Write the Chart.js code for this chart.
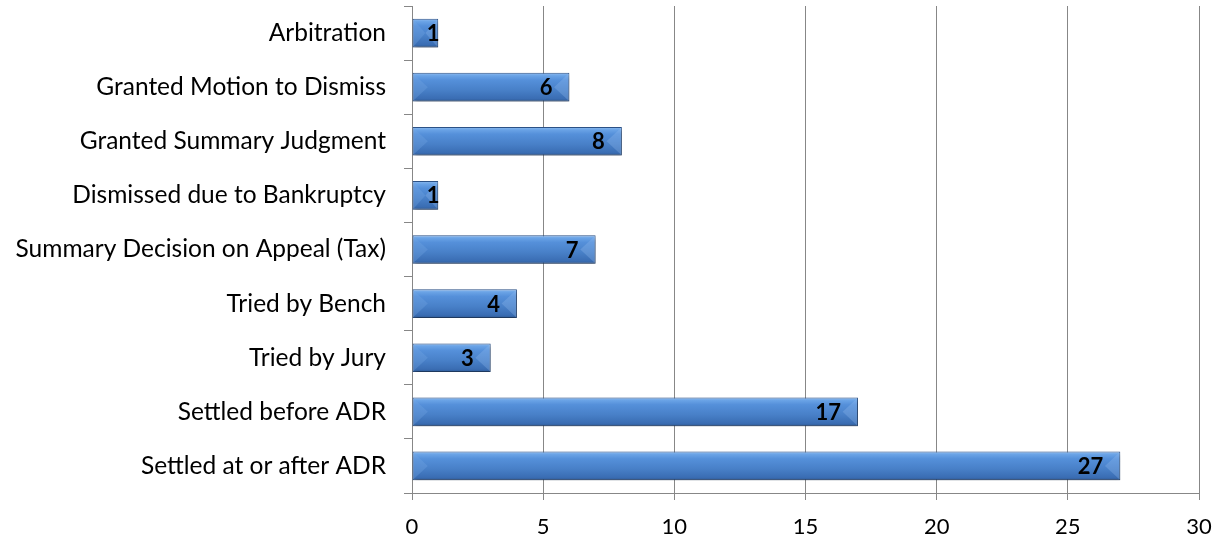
<!DOCTYPE html>
<html>
<head>
<meta charset="utf-8">
<script src="https://cdn.jsdelivr.net/npm/chart.js@4/dist/chart.umd.min.js"></script>
<style>
  html, body { margin: 0; padding: 0; background: #fff; }
  #wrap { width: 1220px; height: 541px; }
</style>
</head>
<body>
<div id="wrap"><canvas id="grafico"></canvas></div>
<script>
// datos
var categorias = [
    'Arbitration',
    'Granted Motion to Dismiss',
    'Granted Summary Judgment',
    'Dismissed due to Bankruptcy',
    'Summary Decision on Appeal (Tax)',
    'Tried by Bench',
    'Tried by Jury',
    'Settled before ADR',
    'Settled at or after ADR'
];
var casos = [1, 6, 8, 1, 7, 4, 3, 17, 27];
var ejeMin = 0;
var ejeMax = 30;
var ejePaso = 5;

var gris = '#878787';
var grosorBarra = 0.53;

// degradado vertical para cada barra (aspecto biselado tipo Excel)
var colorBarra = function (context) {
    var chart = context.chart;
    var escala = chart.scales.y;
    if (!escala || !chart.chartArea) {
        return '#4d84cb';
    }
    var y = escala.getPixelForValue(context.dataIndex);
    var h = (escala.height / categorias.length) * grosorBarra;
    var top = y - h / 2;
    var g = chart.ctx.createLinearGradient(0, top, 0, top + h);
    g.addColorStop(0, '#8fbcf0');
    g.addColorStop(0.1, '#6aa3e6');
    g.addColorStop(0.25, '#5590da');
    g.addColorStop(0.6, '#4880c8');
    g.addColorStop(0.9, '#3a6db3');
    g.addColorStop(1, '#2e5a96');
    return g;
};

var biselPlugin = {
    id: 'bisel',
    beforeDatasetsDraw: function (chart) {
        var ctx = chart.ctx;
        ctx.save();
        ctx.shadowColor = 'rgba(0,0,0,0.35)';
        ctx.shadowOffsetY = 3;
        ctx.shadowOffsetX = 1;
        ctx.shadowBlur = 4;
    },
    afterDatasetsDraw: function (chart) {
        var ctx = chart.ctx;
        ctx.restore();
        ctx.save();
        chart.getDatasetMeta(0).data.forEach(function (bar) {
            var h = bar.height;
            var top = bar.y - h / 2;
            var bot = bar.y + h / 2;
            var x0 = bar.base + 1;
            var x1 = bar.x - 1;
            var w = Math.min(h / 2, (x1 - x0) / 2);
            ctx.fillStyle = 'rgba(120,170,230,0.3)';
            ctx.beginPath();
            ctx.moveTo(x0, top + 1);
            ctx.lineTo(x0 + w, bar.y);
            ctx.lineTo(x0, bot - 1);
            ctx.closePath();
            ctx.fill();
            ctx.fillStyle = 'rgba(150,190,240,0.3)';
            ctx.beginPath();
            ctx.moveTo(x1, top + 1);
            ctx.lineTo(x1 - w, bar.y);
            ctx.lineTo(x1, bot - 1);
            ctx.closePath();
            ctx.fill();
        });
        // etiquetas de valor
        ctx.font = 'bold 22px Lato';
        ctx.fillStyle = '#000';
        ctx.textAlign = 'right';
        ctx.textBaseline = 'middle';
        chart.getDatasetMeta(0).data.forEach(function (bar, i) {
            var x = Math.max(bar.x - 17, bar.base + 27);
            ctx.fillText(String(casos[i]), x, bar.y + 1);
        });
        ctx.restore();
    }
};

var grafico = new Chart(document.getElementById('grafico'), {
    type: 'bar',
    data: {
        labels: categorias,
        datasets: [{
            data: casos,
            backgroundColor: colorBarra,
            borderColor: '#2c5288',
            borderWidth: 1,
            borderSkipped: false,
            barPercentage: grosorBarra,
            categoryPercentage: 1
        }]
    },
    options: {
        indexAxis: 'y',
        responsive: true,
        maintainAspectRatio: false,
        animation: false,
        layout: { padding: { top: 6, right: 21, left: 0, bottom: 0 } },
        plugins: {
            legend: { display: false },
            tooltip: { enabled: false }
        },
        scales: {
            x: {
                min: ejeMin,
                max: ejeMax,
                afterFit: function (scale) {
                    scale.height = 48;
                    scale.paddingLeft = 0;
                    scale.paddingRight = 0;
                },
                ticks: {
                    stepSize: ejePaso,
                    color: '#000',
                    font: { family: 'Lato', size: 22 },
                    padding: 14,
                    maxRotation: 0
                },
                grid: {
                    color: gris,
                    lineWidth: 1,
                    tickLength: 7
                },
                border: { color: gris, width: 1 }
            },
            y: {
                afterFit: function (scale) {
                    scale.width = 412;
                    scale.paddingTop = 0;
                    scale.paddingBottom = 0;
                },
                ticks: {
                    color: '#000',
                    font: { family: 'Lato', size: 24.5 },
                    padding: 18
                },
                grid: {
                    drawOnChartArea: false,
                    color: gris,
                    tickLength: 8,
                    offset: true
                },
                border: { color: gris, width: 1 }
            }
        }
    },
    plugins: [biselPlugin]
});
</script>
</body>
</html>
